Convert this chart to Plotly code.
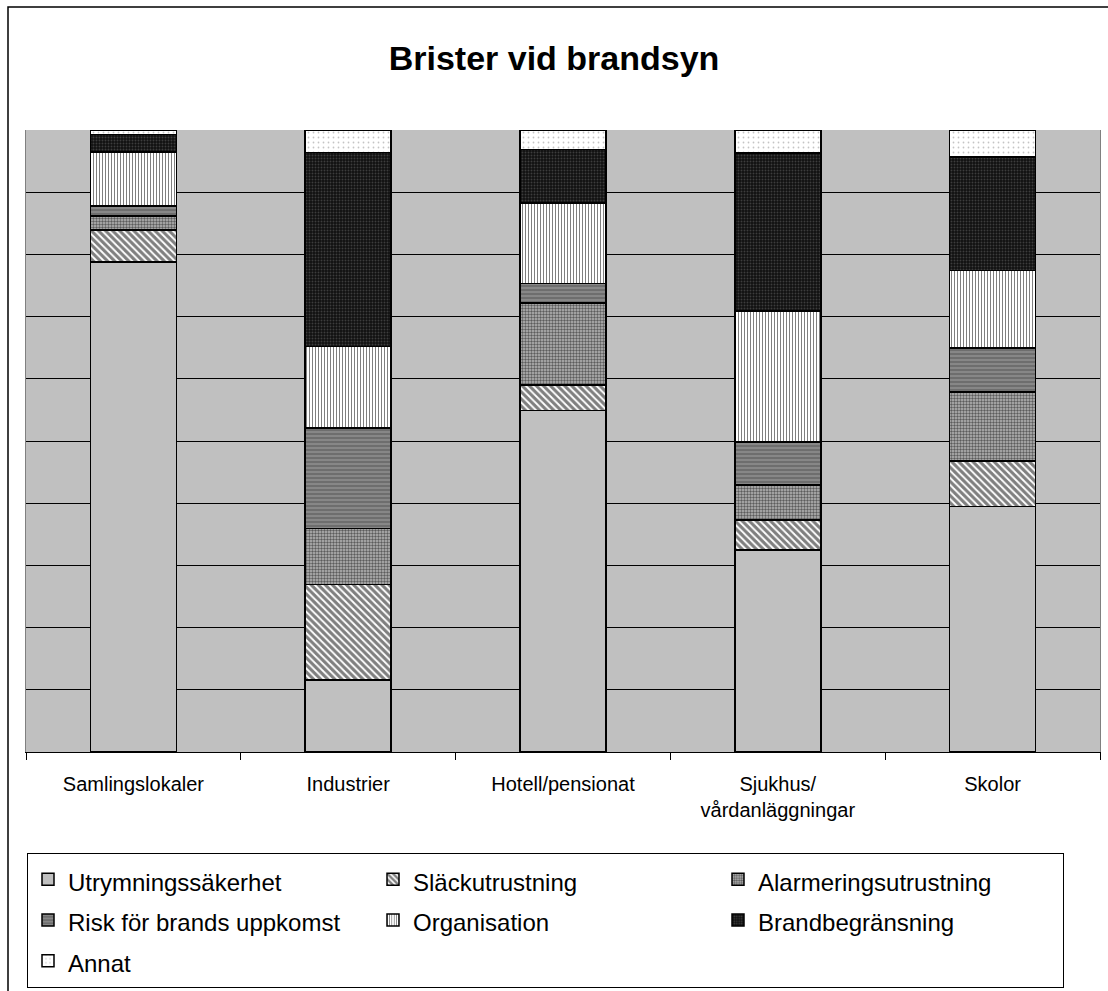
import plotly.graph_objects as go

categories = ["Samlingslokaler", "Industrier", "Hotell/pensionat",
              "Sjukhus/<br>vårdanläggningar", "Skolor"]

utrymning = [78.8, 11.6, 54.9, 32.5, 39.4]
slack = [5.1, 15.3, 4.1, 4.8, 7.3]
alarm = [2.3, 9.0, 13.2, 5.6, 11.1]
risk = [1.6, 16.2, 3.1, 6.9, 7.1]
organisation = [8.7, 13.1, 13.0, 21.1, 12.4]
brandbeg = [2.8, 31.2, 8.6, 25.4, 18.3]
annat = [0.7, 3.6, 3.1, 3.7, 4.3]

series_names = ["Utrymningssäkerhet", "Släckutrustning", "Alarmeringsutrustning",
                "Risk för brands uppkomst", "Organisation", "Brandbegränsning", "Annat"]
series_values = [utrymning, slack, alarm, risk, organisation, brandbeg, annat]

styles = [
    dict(color="#C0C0C0", pattern=None),
    dict(color="#ffffff", pattern=dict(shape="\\", fgcolor="#000000", bgcolor="#ffffff", size=5, solidity=0.62)),
    dict(color="#909090", pattern=dict(shape=".", fgcolor="#000000", bgcolor="#b8b8b8", size=3, solidity=0.5)),
    dict(color="#808080", pattern=dict(shape="-", fgcolor="#b4b4b4", bgcolor="#6e6e6e", size=4, solidity=0.35)),
    dict(color="#ffffff", pattern=dict(shape="|", fgcolor="#000000", bgcolor="#ffffff", size=3, solidity=0.35)),
    dict(color="#111111", pattern=dict(shape=".", fgcolor="#6a6a6a", bgcolor="#111111", size=3, solidity=0.3)),
    dict(color="#ffffff", pattern=dict(shape=".", fgcolor="#8a8a8a", bgcolor="#ffffff", size=5, solidity=0.1)),
]

fig = go.Figure()
for name, vals, st in zip(series_names, series_values, styles):
    marker = dict(color=st["color"], line=dict(color="#000000", width=1.5))
    if st["pattern"] is not None:
        marker["pattern"] = st["pattern"]
    fig.add_trace(go.Bar(
        x=categories, y=vals,
        name=f"<span style='font-size:24px'>{name}</span>",
        marker=marker, width=0.4,
    ))

W, H = 1108, 991
ml, mr, mt, mb = 26, 8, 130, 239
pw = W - ml - mr
ph = H - mt - mb

def px_x(p):
    return (p - ml) / pw

def px_y(p):
    return (H - mb - p) / ph

fig.update_layout(
    width=W, height=H,
    margin=dict(l=ml, r=mr, t=mt, b=mb, pad=0),
    barmode="stack", barnorm="percent",
    paper_bgcolor="#ffffff", plot_bgcolor="#C0C0C0",
    font=dict(family="Liberation Sans, Arial, sans-serif", color="#000000"),
    title=dict(text="<b>Brister vid brandsyn</b>", x=0.5, xanchor="center",
               y=1 - 58 / H, yanchor="middle",
               font=dict(size=34, family="Liberation Sans, Arial, sans-serif", color="#000000")),
    showlegend=True,
    legend=dict(orientation="h", traceorder="normal",
                xref="container", yref="container",
                x=27 / W, xanchor="left", y=1 - 853 / H, yanchor="top",
                bgcolor="#ffffff", bordercolor="#000000", borderwidth=1,
                font=dict(size=29, family="Liberation Sans, Arial, sans-serif", color="#000000"),
                entrywidth=300, entrywidthmode="pixels"),
    xaxis=dict(showgrid=False, showline=True, linecolor="#000000", linewidth=1,
               ticks="outside", tickson="boundaries", ticklen=7, tickcolor="#000000",
               tickfont=dict(size=20, color="#000000"), ticklabelstandoff=14,
               range=[-0.5, 4.5], fixedrange=True),
    yaxis=dict(range=[0, 100], dtick=10, showticklabels=False, ticks="",
               showgrid=True, gridcolor="#000000", gridwidth=1,
               showline=True, linecolor="#808080", linewidth=1, mirror=True,
               zeroline=False, fixedrange=True),
    shapes=[dict(type="rect", xref="paper", yref="paper",
                 x0=px_x(8), x1=px_x(1125), y0=px_y(1010), y1=px_y(7),
                 line=dict(color="#000000", width=1.5), fillcolor="rgba(0,0,0,0)",
                 layer="below")],
)

fig.write_html("out.html", config={"displayModeBar": False},
               post_script="document.body.style.margin='0';document.body.style.overflow='hidden';")
